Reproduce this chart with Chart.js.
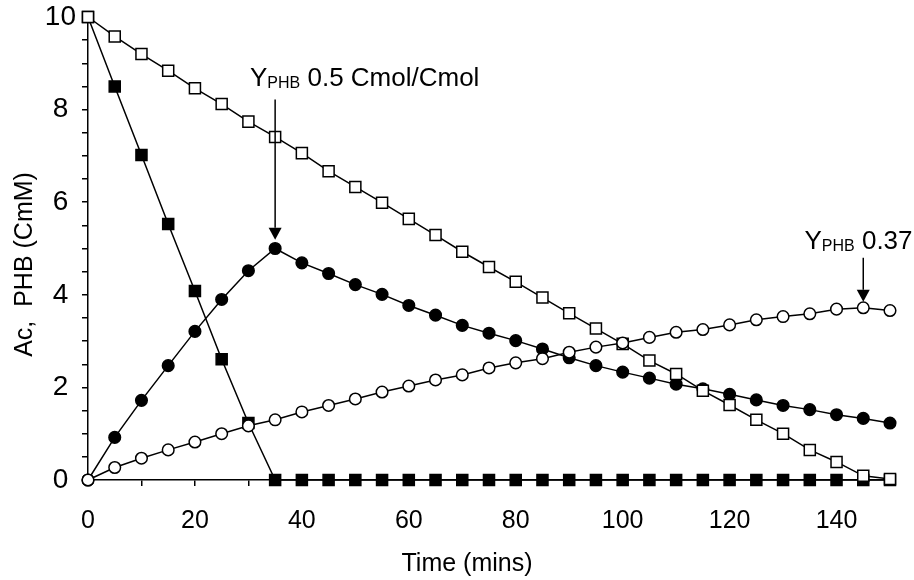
<!DOCTYPE html>
<html>
<head>
<meta charset="utf-8">
<script src="https://cdn.jsdelivr.net/npm/chart.js@4.4.0/dist/chart.umd.min.js"></script>
<style>
  html, body { margin: 0; padding: 0; background: #fff; }
  #wrap { width: 914px; height: 580px; position: relative; }
</style>
</head>
<body>
<div id="wrap"><canvas id="chart"></canvas></div>
<script>
// --- DATA ---
const timeMins = [0, 5, 10, 15, 20, 25, 30, 35, 40, 45, 50, 55, 60, 65, 70, 75,
                  80, 85, 90, 95, 100, 105, 110, 115, 120, 125, 130, 135, 140, 145, 150];

// open squares
const acSlow = [10, 9.58, 9.2, 8.84, 8.46, 8.12, 7.74, 7.41, 7.06, 6.67, 6.33, 5.99, 5.64, 5.29, 4.93, 4.6,
                4.28, 3.94, 3.6, 3.27, 2.94, 2.58, 2.29, 1.93, 1.62, 1.3, 1.0, 0.65, 0.39, 0.09, 0.02];
// filled squares
const acFast = [10, 8.5, 7.02, 5.53, 4.08, 2.61, 1.23, 0, 0, 0, 0, 0, 0, 0, 0, 0,
                0, 0, 0, 0, 0, 0, 0, 0, 0, 0, 0, 0, 0, 0, 0];
// filled circles
const phbFast = [0, 0.92, 1.72, 2.47, 3.21, 3.9, 4.52, 5.0, 4.69, 4.46, 4.22, 4.01, 3.77, 3.56, 3.34, 3.17,
                 3.01, 2.83, 2.64, 2.47, 2.33, 2.2, 2.07, 1.97, 1.85, 1.73, 1.61, 1.52, 1.41, 1.33, 1.23];
// open circles
const phbSlow = [0, 0.27, 0.47, 0.65, 0.82, 1.0, 1.17, 1.3, 1.47, 1.61, 1.75, 1.9, 2.03, 2.16, 2.27, 2.42,
                 2.53, 2.62, 2.76, 2.87, 2.96, 3.08, 3.19, 3.25, 3.35, 3.46, 3.53, 3.59, 3.69, 3.72, 3.66];

const xLabelStep = 20;
const yLabelStep = 2;

// arrow annotations, in data units
const notes = [
  { x: 35, yTop: 8.22, yTip: 5.19, textX: 30.3, textY: 8.5, rest: ' 0.5 Cmol/Cmol' },
  { x: 145, yTop: 4.8, yTip: 3.85, textX: 134, textY: 4.98, rest: ' 0.37' }
];

// --- STYLE ---
const FONT = '"Liberation Sans", Arial, Helvetica, sans-serif';
const INK = '#000';

const toPoints = (ys) => ys.map((y, i) => ({ x: timeMins[i], y: y }));

function series(data, style, filled) {
  return {
    data: toPoints(data),
    borderColor: INK,
    borderWidth: 1.5,
    pointStyle: style,
    pointRadius: style === 'rect' ? 7.8 : 5.8,
    pointBorderWidth: 1.5,
    pointBorderColor: INK,
    pointBackgroundColor: filled ? INK : '#fff',
    tension: 0,
    clip: false
  };
}

// axis titles + arrow notes
const extras = {
  id: 'extras',
  afterDraw(chart) {
    const { ctx, chartArea, scales } = chart;
    const xs = scales.x, ys = scales.y;
    ctx.save();
    ctx.fillStyle = INK;
    ctx.strokeStyle = INK;

    // axis titles
    ctx.font = '25px ' + FONT;
    ctx.textAlign = 'center';
    ctx.textBaseline = 'alphabetic';
    ctx.fillText('Time (mins)', chartArea.left + (chartArea.right - chartArea.left) / 2 - 22, 571);
    ctx.save();
    ctx.translate(32, chartArea.top + (chartArea.bottom - chartArea.top) / 2 + 16);
    ctx.rotate(-Math.PI / 2);
    ctx.fillText('Ac,  PHB (CmM)', 0, 0);
    ctx.restore();

    // arrows
    notes.forEach(n => {
      const px = xs.getPixelForValue(n.x);
      const top = ys.getPixelForValue(n.yTop);
      const tip = ys.getPixelForValue(n.yTip);
      const head = 12;
      ctx.lineWidth = 1.5;
      ctx.beginPath();
      ctx.moveTo(px, top);
      ctx.lineTo(px, tip - head);
      ctx.stroke();
      ctx.beginPath();
      ctx.moveTo(px - 6.5, tip - head);
      ctx.lineTo(px + 6.5, tip - head);
      ctx.lineTo(px, tip);
      ctx.closePath();
      ctx.fill();

      let tx = xs.getPixelForValue(n.textX);
      const ty = ys.getPixelForValue(n.textY);
      ctx.textAlign = 'left';
      ctx.font = '26px ' + FONT;
      ctx.fillText('Y', tx, ty);
      tx += ctx.measureText('Y').width;
      ctx.font = '16px ' + FONT;
      ctx.fillText('PHB', tx, ty + 2);
      tx += ctx.measureText('PHB').width;
      ctx.font = '26px ' + FONT;
      ctx.fillText(n.rest, tx, ty);
    });
    ctx.restore();
  }
};

new Chart(document.getElementById('chart'), {
  type: 'line',
  data: {
    datasets: [
      series(phbSlow, 'circle', false),
      series(acSlow, 'rect', false),
      series(phbFast, 'circle', true),
      series(acFast, 'rect', true)
    ]
  },
  options: {
    responsive: true,
    maintainAspectRatio: false,
    animation: false,
    devicePixelRatio: 1,
    layout: { padding: { left: 0, top: 17, right: 24, bottom: 0 } },
    plugins: { legend: { display: false }, tooltip: { enabled: false } },
    scales: {
      x: {
        type: 'linear',
        min: 0,
        max: 150,
        afterFit: (s) => { s.height = 100; },
        border: { display: true, color: INK, width: 1.5 },
        grid: { drawOnChartArea: false, drawTicks: true, tickLength: 6, color: INK, lineWidth: 1.5 },
        ticks: {
          stepSize: 10,
          autoSkip: false,
          maxRotation: 0,
          padding: 20,
          color: INK,
          font: { family: FONT, size: 25 },
          callback: (v) => (v % xLabelStep === 0 ? v : '')
        }
      },
      y: {
        type: 'linear',
        min: 0,
        max: 10,
        afterFit: (s) => { s.width = 88; s.paddingTop = 0; s.paddingBottom = 0; },
        border: { display: true, color: INK, width: 1.5 },
        grid: { drawOnChartArea: false, drawTicks: true, tickLength: 6, color: INK, lineWidth: 1.5 },
        ticks: {
          stepSize: 0.5,
          autoSkip: false,
          padding: 6,
          crossAlign: 'center',
          color: INK,
          font: { family: FONT, size: 28 },
          callback: (v) => (v % yLabelStep === 0 ? v : '')
        }
      }
    }
  },
  plugins: [extras]
});
</script>
</body>
</html>
